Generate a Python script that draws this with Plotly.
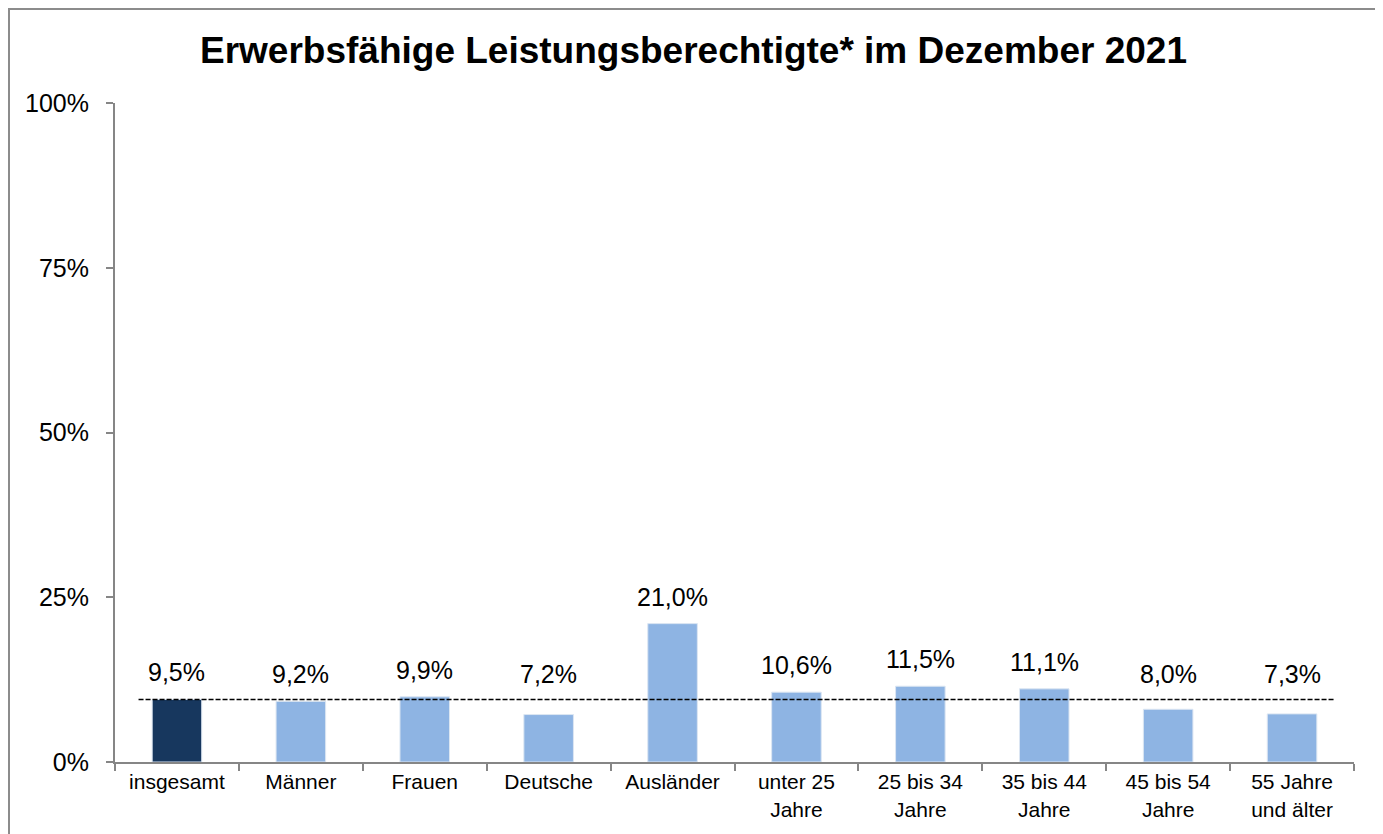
import plotly.graph_objects as go

categories = ["insgesamt", "Männer", "Frauen", "Deutsche", "Ausländer",
              "unter 25<br>Jahre", "25 bis 34<br>Jahre", "35 bis 44<br>Jahre",
              "45 bis 54<br>Jahre", "55 Jahre<br>und älter"]
values = [9.5, 9.2, 9.9, 7.2, 21.0, 10.6, 11.5, 11.1, 8.0, 7.3]
y_ticks = [0, 25, 50, 75, 100]
y_ticklabels = ["0%", "25%", "50%", "75%", "100%"]
title_text = "Erwerbsfähige Leistungsberechtigte* im Dezember 2021"

FONT = "Liberation Sans, Arial, sans-serif"
colors = ["#17375E"] + ["#8EB4E3"] * (len(values) - 1)
labels = [f"{v:.1f}%".replace(".", ",") for v in values]
ref_value = values[0]

W, H = 1375, 826
L, R, T, B = 107, 29, 95, 72
PW, PH = W - L - R, H - T - B

fig = go.Figure()
fig.add_trace(go.Bar(
    x=categories, y=values,
    marker=dict(color=colors, line=dict(color="#DCE6F2", width=1)),
    hoverinfo="skip",
))

# data labels: placed above the bar, but never below the reference line
for cat, v, lab in zip(categories, values, labels):
    below = v < ref_value
    fig.add_annotation(
        x=cat, y=max(v, ref_value), xref="x", yref="y",
        text=lab, showarrow=False, yanchor="bottom",
        yshift=(9 if below else 11),
        font=dict(family=FONT, size=25, color="black"),
    )

# reference line at the "insgesamt" value
fig.add_shape(type="line", xref="x", yref="y",
              x0=-0.31, x1=9.34, y0=ref_value, y1=ref_value,
              line=dict(color="black", width=1.5, dash="5px,2px"))

# outer chart border
fig.add_shape(type="rect", xref="paper", yref="paper",
              x0=(1 - L) / PW, x1=(W - 1 - L) / PW,
              y0=-0.3, y1=(PH + T - 1) / PH,
              line=dict(color="#8C8C8C", width=2), fillcolor="rgba(0,0,0,0)",
              layer="below")

fig.update_layout(
    width=W, height=H,
    margin=dict(l=L, r=R, t=T, b=B),
    paper_bgcolor="white", plot_bgcolor="white",
    bargap=0.6, showlegend=False,
    font=dict(family=FONT, color="black"),
    title=dict(text=f"<b>{title_text}</b>", x=685.5 / W, xanchor="center",
               xref="container", y=1 - 42 / H, yanchor="middle", yref="container",
               font=dict(family=FONT, size=37, color="black")),
    xaxis=dict(type="category", showline=True, linecolor="#868686", linewidth=2,
               ticks="outside", tickson="boundaries", ticklen=7, tickwidth=2,
               tickcolor="#868686", showgrid=False,
               tickfont=dict(family=FONT, size=21, color="black")),
    yaxis=dict(range=[0, 100], tickvals=y_ticks, ticktext=y_ticklabels,
               showline=True, linecolor="#868686", linewidth=2,
               ticks="outside", ticklen=7, tickwidth=2, tickcolor="#868686",
               showgrid=False, zeroline=False, ticklabelstandoff=12,
               tickfont=dict(family=FONT, size=25, color="black")),
)

fig.write_html("out.html")
